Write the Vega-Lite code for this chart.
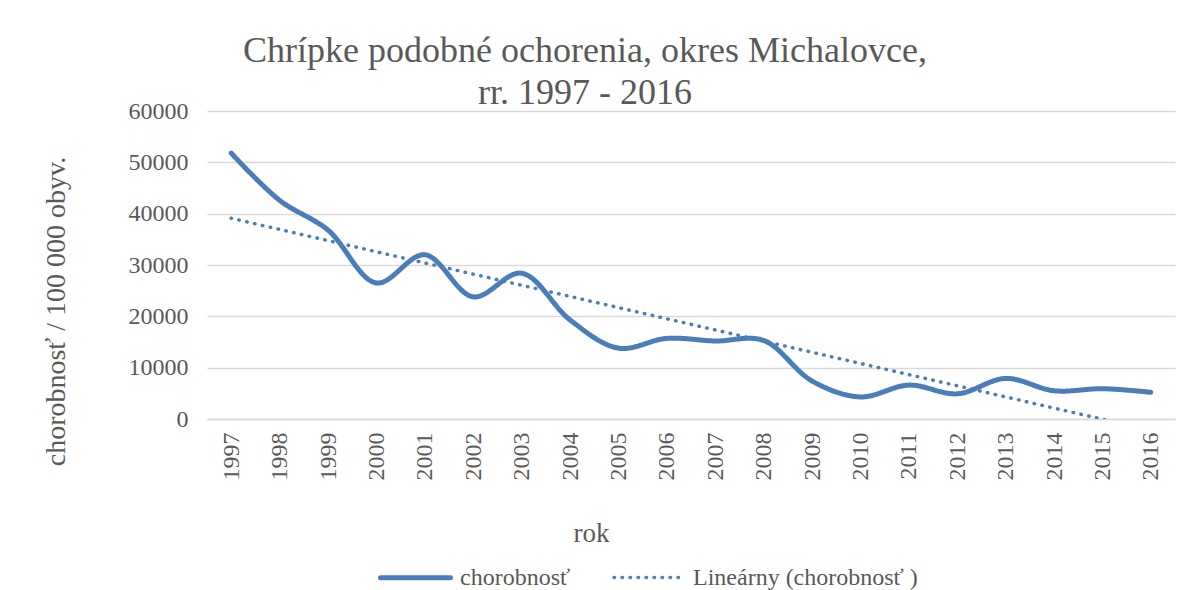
{
  "$schema": "https://vega.github.io/schema/vega-lite/v6.json",
  "width": 968,
  "height": 308,
  "autosize": {"type": "none"},
  "padding": {"left": 207, "top": 111, "right": 8, "bottom": 171},
  "background": "white",
  "title": {
    "text": ["Chrípke podobné ochorenia, okres Michalovce,", "rr. 1997 - 2016"],
    "font": "Liberation Serif",
    "fontSize": 36,
    "fontWeight": "normal",
    "color": "#595959",
    "anchor": "middle",
    "frame": "group",
    "dx": -106,
    "lineHeight": 42,
    "baseline": "alphabetic",
    "offset": -41
  },
  "data": {
    "values": [
      {"rok": "1997", "séria": "chorobnosť", "hodnota": 51800},
      {"rok": "1998", "séria": "chorobnosť", "hodnota": 42600},
      {"rok": "1999", "séria": "chorobnosť", "hodnota": 36800},
      {"rok": "2000", "séria": "chorobnosť", "hodnota": 26500},
      {"rok": "2001", "séria": "chorobnosť", "hodnota": 32000},
      {"rok": "2002", "séria": "chorobnosť", "hodnota": 23800},
      {"rok": "2003", "séria": "chorobnosť", "hodnota": 28400},
      {"rok": "2004", "séria": "chorobnosť", "hodnota": 19300},
      {"rok": "2005", "séria": "chorobnosť", "hodnota": 13800},
      {"rok": "2006", "séria": "chorobnosť", "hodnota": 15700},
      {"rok": "2007", "séria": "chorobnosť", "hodnota": 15200},
      {"rok": "2008", "séria": "chorobnosť", "hodnota": 15300},
      {"rok": "2009", "séria": "chorobnosť", "hodnota": 7400},
      {"rok": "2010", "séria": "chorobnosť", "hodnota": 4300},
      {"rok": "2011", "séria": "chorobnosť", "hodnota": 6600},
      {"rok": "2012", "séria": "chorobnosť", "hodnota": 4900},
      {"rok": "2013", "séria": "chorobnosť", "hodnota": 7900},
      {"rok": "2014", "séria": "chorobnosť", "hodnota": 5500},
      {"rok": "2015", "séria": "chorobnosť", "hodnota": 5900},
      {"rok": "2016", "séria": "chorobnosť", "hodnota": 5200},
      {"rok": "1997", "séria": "Lineárny (chorobnosť )", "hodnota": 39100},
      {"rok": "1998", "séria": "Lineárny (chorobnosť )", "hodnota": 36925},
      {"rok": "1999", "séria": "Lineárny (chorobnosť )", "hodnota": 34750},
      {"rok": "2000", "séria": "Lineárny (chorobnosť )", "hodnota": 32575},
      {"rok": "2001", "séria": "Lineárny (chorobnosť )", "hodnota": 30400},
      {"rok": "2002", "séria": "Lineárny (chorobnosť )", "hodnota": 28225},
      {"rok": "2003", "séria": "Lineárny (chorobnosť )", "hodnota": 26050},
      {"rok": "2004", "séria": "Lineárny (chorobnosť )", "hodnota": 23875},
      {"rok": "2005", "séria": "Lineárny (chorobnosť )", "hodnota": 21700},
      {"rok": "2006", "séria": "Lineárny (chorobnosť )", "hodnota": 19525},
      {"rok": "2007", "séria": "Lineárny (chorobnosť )", "hodnota": 17350},
      {"rok": "2008", "séria": "Lineárny (chorobnosť )", "hodnota": 15175},
      {"rok": "2009", "séria": "Lineárny (chorobnosť )", "hodnota": 13000},
      {"rok": "2010", "séria": "Lineárny (chorobnosť )", "hodnota": 10825},
      {"rok": "2011", "séria": "Lineárny (chorobnosť )", "hodnota": 8650},
      {"rok": "2012", "séria": "Lineárny (chorobnosť )", "hodnota": 6475},
      {"rok": "2013", "séria": "Lineárny (chorobnosť )", "hodnota": 4300},
      {"rok": "2014", "séria": "Lineárny (chorobnosť )", "hodnota": 2125},
      {"rok": "2015", "séria": "Lineárny (chorobnosť )", "hodnota": -50},
      {"rok": "2016", "séria": "Lineárny (chorobnosť )", "hodnota": -2225}
    ]
  },
  "mark": {"type": "line", "interpolate": "catmull-rom", "clip": true, "strokeCap": "round"},
  "encoding": {
    "x": {
      "field": "rok",
      "type": "ordinal",
      "scale": {"type": "point", "padding": 0.5},
      "axis": {
        "title": "rok",
        "titleFont": "Liberation Serif",
        "titleFontSize": 27,
        "titleFontWeight": "normal",
        "titleColor": "#595959",
        "titleX": 384,
        "titleY": 122,
        "titleAlign": "center",
        "titleBaseline": "alphabetic",
        "labelFont": "Liberation Serif",
        "labelFontSize": 24,
        "labelColor": "#595959",
        "labelAngle": -90,
        "labelAlign": "right",
        "labelBaseline": "middle",
        "labelPadding": 13,
        "ticks": false,
        "domainColor": "#d9d9d9",
        "domainWidth": 1.5
      }
    },
    "y": {
      "field": "hodnota",
      "type": "quantitative",
      "scale": {"domain": [0, 60000], "nice": false},
      "axis": {
        "values": [0, 10000, 20000, 30000, 40000, 50000, 60000],
        "format": "d",
        "title": "chorobnosť / 100 000 obyv.",
        "titleFont": "Liberation Serif",
        "titleFontSize": 28,
        "titleFontWeight": "normal",
        "titleColor": "#595959",
        "titleAngle": -90,
        "titleX": -143,
        "titleY": 200,
        "titleAlign": "center",
        "titleBaseline": "alphabetic",
        "labelFont": "Liberation Serif",
        "labelFontSize": 24,
        "labelColor": "#595959",
        "labelPadding": 19,
        "ticks": false,
        "domain": false,
        "grid": true,
        "gridColor": "#d9d9d9",
        "gridWidth": 1.5
      }
    },
    "color": {
      "field": "séria",
      "type": "nominal",
      "scale": {"domain": ["chorobnosť", "Lineárny (chorobnosť )"], "range": ["#4a7ebb", "#4a7ebb"]},
      "legend": {
        "title": null,
        "orient": "none",
        "direction": "horizontal",
        "legendX": 171,
        "legendY": 429,
        "padding": 0,
        "symbolType": "stroke",
        "symbolSize": 4900,
        "labelFont": "Liberation Serif",
        "labelFontSize": 24,
        "labelColor": "#595959",
        "labelLimit": 400,
        "labelOffset": 7,
        "columnPadding": 36,
        "encode": {"symbols": {"update": {"strokeCap": {"value": "round"}}}}
      }
    },
    "strokeDash": {
      "field": "séria",
      "type": "nominal",
      "scale": {"domain": ["chorobnosť", "Lineárny (chorobnosť )"], "range": [[1, 0], [0.5, 7.5]]}
    },
    "strokeWidth": {
      "field": "séria",
      "type": "nominal",
      "scale": {"domain": ["chorobnosť", "Lineárny (chorobnosť )"], "range": [5, 3.5]}
    }
  },
  "config": {"view": {"stroke": null}}
}
